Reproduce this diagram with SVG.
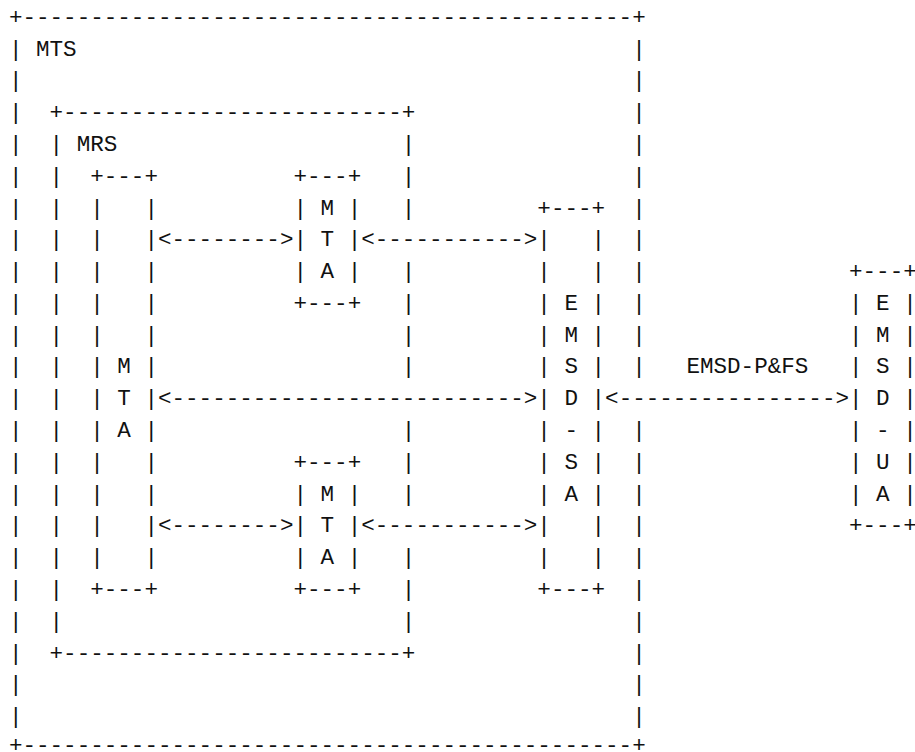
<svg xmlns="http://www.w3.org/2000/svg" width="915" height="752" viewBox="0 0 915 752">
<style>
.t{font-family:"Liberation Mono","DejaVu Sans Mono",monospace;font-size:22.58px;fill:#111;white-space:pre}
</style>
<rect width="915" height="752" fill="#fff"/>
<g id="mts">
<text class="t" x="8.9" y="23.9">+---------------------------------------------+</text>
<text class="t" x="8.9" y="752">+---------------------------------------------+</text>
<text class="t" x="8.9 8.9 8.9 8.9 8.9 8.9 8.9 8.9 8.9 8.9 8.9 8.9 8.9 8.9 8.9 8.9 8.9 8.9 8.9 8.9 8.9 8.9" y="55.68 87.46 119.24 151.02 182.8 214.58 246.36 278.14 309.92 341.7 373.48 405.26 437.04 468.82 500.6 532.38 564.16 595.94 627.72 659.5 691.28 723.06">||||||||||||||||||||||</text>
<text class="t" x="632.2 632.2 632.2 632.2 632.2 632.2 632.2 632.2 632.2 632.2 632.2" y="55.68 87.46 119.24 151.02 182.8 214.58 246.36 278.14 309.92 341.7 373.48">|||||||||||</text>
<text class="t" x="632.2 632.2 632.2 632.2 632.2 632.2 632.2 632.2 632.2 632.2" y="437.04 468.82 500.6 532.38 564.16 595.94 627.72 659.5 691.28 723.06">||||||||||</text>
<text class="t" x="36.0" y="55.68">MTS</text>
</g>
<g id="mrs">
<text class="t" x="49.55" y="119.24">+-------------------------+</text>
<text class="t" x="49.55" y="659.5">+-------------------------+</text>
<text class="t" x="49.55 49.55 49.55 49.55 49.55 49.55 49.55 49.55 49.55 49.55 49.55 49.55 49.55 49.55 49.55 49.55" y="151.02 182.8 214.58 246.36 278.14 309.92 341.7 373.48 405.26 437.04 468.82 500.6 532.38 564.16 595.94 627.72">||||||||||||||||</text>
<text class="t" x="401.85 401.85 401.85" y="151.02 182.8 214.58">|||</text>
<text class="t" x="401.85 401.85 401.85 401.85" y="278.14 309.92 341.7 373.48">||||</text>
<text class="t" x="401.85 401.85 401.85" y="437.04 468.82 500.6">|||</text>
<text class="t" x="401.85 401.85 401.85" y="564.16 595.94 627.72">|||</text>
<text class="t" x="76.65" y="151.02">MRS</text>
</g>
<g id="mta-left">
<text class="t" x="90.2" y="182.8">+---+</text>
<text class="t" x="90.2" y="595.94">+---+</text>
<text class="t" x="90.2 90.2 90.2 90.2 90.2 90.2 90.2 90.2 90.2 90.2 90.2 90.2" y="214.58 246.36 278.14 309.92 341.7 373.48 405.26 437.04 468.82 500.6 532.38 564.16">||||||||||||</text>
<text class="t" x="144.4 144.4 144.4 144.4 144.4 144.4 144.4 144.4 144.4 144.4 144.4 144.4" y="214.58 246.36 278.14 309.92 341.7 373.48 405.26 437.04 468.82 500.6 532.38 564.16">||||||||||||</text>
<text class="t" x="117.3 117.3 117.3" y="373.48 405.26 437.04">MTA</text>
</g>
<g id="mta-top">
<text class="t" x="293.45" y="182.8">+---+</text>
<text class="t" x="293.45" y="309.92">+---+</text>
<text class="t" x="293.45 293.45 293.45" y="214.58 246.36 278.14">|||</text>
<text class="t" x="347.65 347.65 347.65" y="214.58 246.36 278.14">|||</text>
<text class="t" x="320.55 320.55 320.55" y="214.58 246.36 278.14">MTA</text>
</g>
<g id="mta-bottom">
<text class="t" x="293.45" y="468.82">+---+</text>
<text class="t" x="293.45" y="595.94">+---+</text>
<text class="t" x="293.45 293.45 293.45" y="500.6 532.38 564.16">|||</text>
<text class="t" x="347.65 347.65 347.65" y="500.6 532.38 564.16">|||</text>
<text class="t" x="320.55 320.55 320.55" y="500.6 532.38 564.16">MTA</text>
</g>
<g id="emsd-sa">
<text class="t" x="537.35" y="214.58">+---+</text>
<text class="t" x="537.35" y="595.94">+---+</text>
<text class="t" x="537.35 537.35 537.35 537.35 537.35 537.35 537.35 537.35 537.35 537.35 537.35" y="246.36 278.14 309.92 341.7 373.48 405.26 437.04 468.82 500.6 532.38 564.16">|||||||||||</text>
<text class="t" x="591.55 591.55 591.55 591.55 591.55 591.55 591.55 591.55 591.55 591.55 591.55" y="246.36 278.14 309.92 341.7 373.48 405.26 437.04 468.82 500.6 532.38 564.16">|||||||||||</text>
<text class="t" x="564.45 564.45 564.45 564.45 564.45 564.45 564.45" y="309.92 341.7 373.48 405.26 437.04 468.82 500.6">EMSD-SA</text>
</g>
<g id="emsd-ua">
<text class="t" x="849" y="278.14">+---+</text>
<text class="t" x="849" y="532.38">+---+</text>
<text class="t" x="849 849 849 849 849 849 849" y="309.92 341.7 373.48 405.26 437.04 468.82 500.6">|||||||</text>
<text class="t" x="903.2 903.2 903.2 903.2 903.2 903.2 903.2" y="309.92 341.7 373.48 405.26 437.04 468.82 500.6">|||||||</text>
<text class="t" x="876.1 876.1 876.1 876.1 876.1 876.1 876.1" y="309.92 341.7 373.48 405.26 437.04 468.82 500.6">EMSD-UA</text>
</g>
<g id="connectors">
<text class="t" x="157.95" y="246.36">&lt;--------&gt;</text>
<text class="t" x="361.2" y="246.36">&lt;-----------&gt;</text>
<text class="t" x="157.95" y="532.38">&lt;--------&gt;</text>
<text class="t" x="361.2" y="532.38">&lt;-----------&gt;</text>
<text class="t" x="157.95" y="405.26">&lt;--------------------------&gt;</text>
<text class="t" x="605.1" y="405.26">&lt;----------------&gt;</text>
<text class="t" x="686.4" y="373.48">EMSD-P&amp;FS</text>
</g>
</svg>
